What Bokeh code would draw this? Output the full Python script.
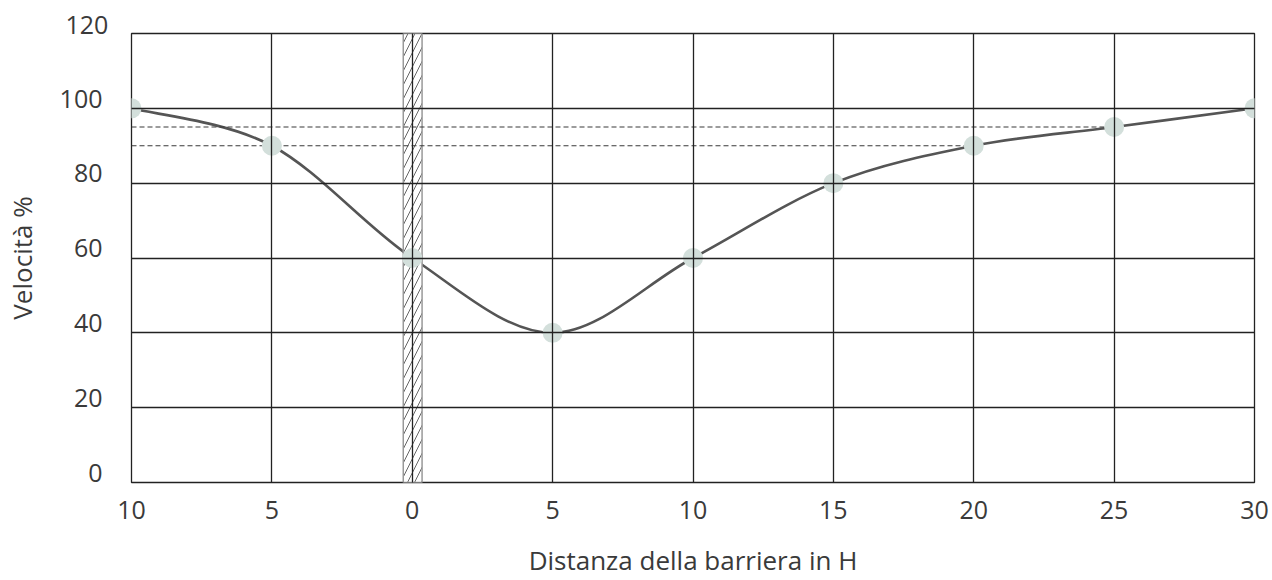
from bokeh.plotting import figure
from bokeh.models import FixedTicker, Range1d, LinearAxis
from bokeh.embed import file_html
from bokeh.resources import INLINE

# data
distance = [-10, -5, 0, 5, 10, 15, 20, 25, 30]
speed = [100, 90, 60, 40, 60, 80, 90, 95, 100]
x_ticks = [-10, -5, 0, 5, 10, 15, 20, 25, 30]
x_tick_labels = ["10", "5", "0", "5", "10", "15", "20", "25", "30"]
y_ticks = [0, 20, 40, 60, 80, 100, 120]
y_top_label = "120"
ref_levels = [95, 90]
ref_ends = [25, 20]
barrier_left, barrier_right = -0.32, 0.35

FONT = "Open Sans"
TXT = "#3a3a3a"
FS = "25px"

p = figure(width=1272, height=580, output_backend="svg", toolbar_location=None,
           x_range=Range1d(-10, 30), y_range=Range1d(0, 120), y_axis_location=None,
           min_border_left=131, min_border_right=18, min_border_top=33, min_border_bottom=98)

p.outline_line_color = "#222222"
p.outline_line_width = 1.3
p.background_fill_color = "white"
p.border_fill_color = "white"

# smooth curve (Catmull-Rom converted to cubic Bezier segments)
n = len(distance)
x0, y0, x1, y1, cx0, cy0, cx1, cy1 = [], [], [], [], [], [], [], []
for i in range(n - 1):
    xm, ym = distance[max(i - 1, 0)], speed[max(i - 1, 0)]
    xa, ya = distance[i], speed[i]
    xb, yb = distance[i + 1], speed[i + 1]
    xp, yp = distance[min(i + 2, n - 1)], speed[min(i + 2, n - 1)]
    x0.append(xa); y0.append(ya); x1.append(xb); y1.append(yb)
    cx0.append(xa + (xb - xm) / 6); cy0.append(ya + (yb - ym) / 6)
    cx1.append(xb - (xp - xa) / 6); cy1.append(yb - (yp - ya) / 6)
p.bezier(x0=x0, y0=y0, x1=x1, y1=y1, cx0=cx0, cy0=cy0, cx1=cx1, cy1=cy1,
         line_color="#555555", line_width=2.6)

# barrier
p.quad(left=[barrier_left], right=[barrier_right], bottom=[0], top=[120],
       fill_color="white", line_color="#999999", line_width=1.5,
       hatch_pattern="/", hatch_color="#555555", hatch_scale=14, hatch_weight=0.9)

# reference dashed lines
for lvl, end in zip(ref_levels, ref_ends):
    p.line(x=[-10, end], y=[lvl, lvl], line_color="#3a3a3a", line_width=1.1, line_dash="5 3")

# markers
p.scatter(distance, speed, size=20, fill_color="#d3dfdb", line_color=None)

# grids on top
for g in (p.xgrid, p.ygrid):
    g.level = "overlay"
    g.grid_line_color = "#222222"
    g.grid_line_width = 1.3
    g.grid_line_alpha = 1
p.xgrid.ticker = FixedTicker(ticks=x_ticks)
p.ygrid.ticker = FixedTicker(ticks=y_ticks)

# y axis: labels sit just above their grid line -> slightly shifted label range
p.extra_y_ranges = {"lab": Range1d(-2.6, 117.4)}
yax = LinearAxis(y_range_name="lab", ticker=FixedTicker(ticks=y_ticks))
p.add_layout(yax, "left")

p.xaxis.ticker = FixedTicker(ticks=x_ticks)
p.xaxis.major_label_overrides = {t: l for t, l in zip(x_ticks, x_tick_labels)}

for ax in (p.xaxis[0], yax):
    ax.axis_line_color = None
    ax.major_tick_line_color = None
    ax.minor_tick_line_color = None
    ax.major_label_text_font = FONT
    ax.major_label_text_font_size = FS
    ax.major_label_text_color = TXT
    ax.axis_label_text_font = FONT
    ax.axis_label_text_font_size = "26px"
    ax.axis_label_text_color = TXT
    ax.axis_label_text_font_style = "normal"

p.xaxis.axis_label = "Distanza della barriera in H"
yax.axis_label = "Velocità %"
p.xaxis.major_label_standoff = 12
p.xaxis.axis_label_standoff = 20
yax.major_label_standoff = 23
yax.axis_label_standoff = 17

# top tick label (above the frame) shown through the title slot
p.title.text = y_top_label
p.title.align = "left"
p.title.offset = -66
p.title.standoff = 0
p.title.text_font = FONT
p.title.text_font_size = FS
p.title.text_font_style = "normal"
p.title.text_color = TXT

open("out.html", "w").write(file_html(p, INLINE))
